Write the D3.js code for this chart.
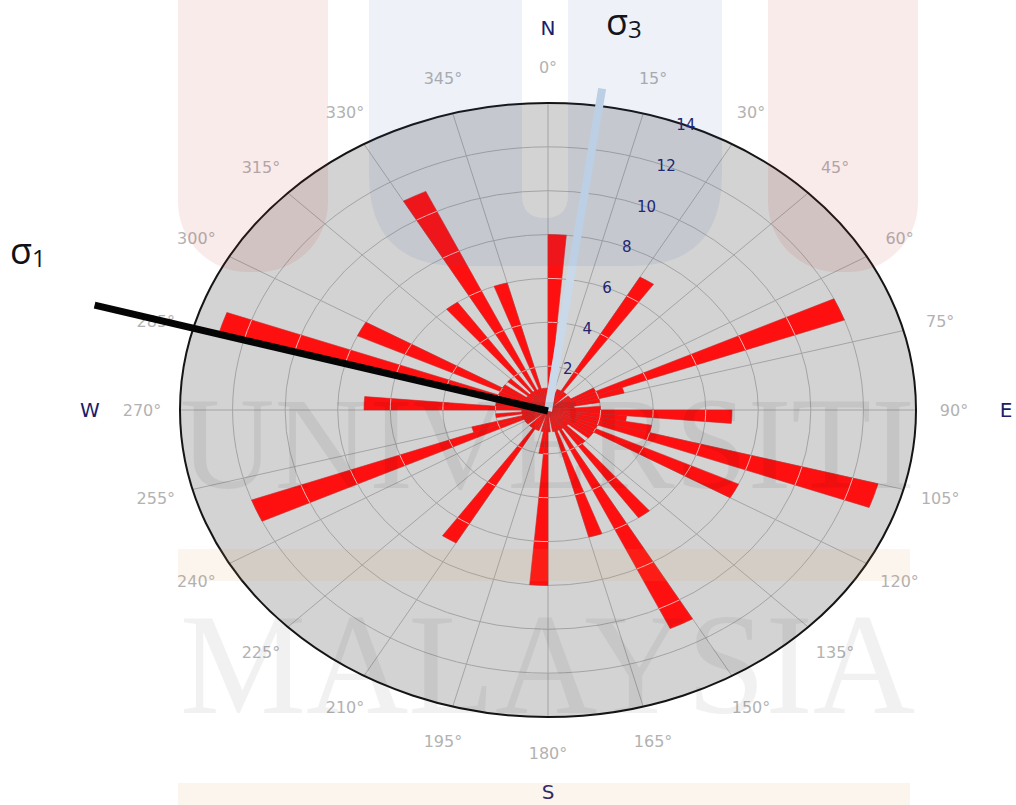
<!DOCTYPE html>
<html>
<head>
<meta charset="UTF-8">
<title>Rose diagram</title>
<script src="https://cdn.jsdelivr.net/npm/d3@7"></script>
<style>
  body { margin: 0; background: #fff; }
  svg { display: block; }
  .grid { fill: none; stroke: #a4a4a4; stroke-width: 1px; }
  .deg { font: 16px "DejaVu Sans", sans-serif; fill: #b2b2b2; }
  .val { font: 15px "DejaVu Sans", sans-serif; fill: #23236e; }
  .compass { font: 20px "DejaVu Sans", sans-serif; fill: #1c1c6a; }
  .sigma { font-family: "Open Sans", sans-serif; fill: #111; }
</style>
</head>
<body>
<script>
// 5 degree bins, counts (bin i covers i*5 .. i*5+5)
var binWidth = 5;
var counts = [
  8, 1, 0, 0, 1, 1, 7, 1, 1, 0, 1, 1,     //   0 -  55
  2, 12, 3, 2, 1, 2, 7, 3, 4, 13, 2, 8,   //  60 - 115
  2, 2, 1, 2, 6, 1, 11, 1, 6, 1, 0, 1,    // 120 - 175
  8, 2, 1, 0, 1, 1, 7, 1, 1, 0, 1, 1,     // 180 - 235
  1, 12, 3, 1, 2, 1, 7, 2, 1, 13, 2, 8,   // 240 - 295
  2, 1, 2, 1, 6, 1, 11, 1, 6, 1, 1, 1     // 300 - 355
];
var ringValues = [2, 4, 6, 8, 10, 12];
var ringLabels = [2, 4, 6, 8, 10, 12, 14];
var angleTicks = [0, 15, 30, 45, 60, 75, 90, 105, 120, 135, 150, 165,
                  180, 195, 210, 225, 240, 255, 270, 285, 300, 315, 330, 345];
var compassNames = ["N", "E", "S", "W"];
var compassAngles = [0, 90, 180, 270];
// principal stress directions (azimuth, length in count units)
var sigmaNames = ["1", "3"];
var sigmaAzimuth = [285.5, 8];
var sigmaLength = [17.9, 14.8];

var W = 1016, H = 805;
var cx = 548, cy = 410, rx = 368, ry = 307, k = ry / rx;
var maxVal = 14;

var r = d3.scaleLinear().domain([0, maxVal]).range([0, rx]);
var ang = d3.scaleLinear().domain([0, 360]).range([0, 2 * Math.PI]);

function pt(deg, v) {
    var t = ang(deg);
    return [cx + r(v) * Math.sin(t), cy - r(v) * k * Math.cos(t)];
}

var bins = counts.map(function(c, i) { return {start: i * binWidth, value: c}; });

var svg = d3.select("body").append("svg")
    .attr("width", W).attr("height", H);

// circular plot squashed into an ellipse
var plot = svg.append("g")
    .attr("transform", "translate(" + cx + "," + cy + ") scale(1," + k + ")");

plot.append("circle")
    .attr("r", r(maxVal))
    .attr("fill", "#d3d3d3");

plot.selectAll(".ring")
    .data(ringValues)
    .enter().append("circle")
    .attr("class", "grid ring")
    .attr("r", function(d) { return r(d); })
    .attr("vector-effect", "non-scaling-stroke");

plot.selectAll(".spoke")
    .data(angleTicks)
    .enter().append("line")
    .attr("class", "grid spoke")
    .attr("x1", 0).attr("y1", 0)
    .attr("x2", function(d) { return r(maxVal) * Math.sin(ang(d)); })
    .attr("y2", function(d) { return -r(maxVal) * Math.cos(ang(d)); })
    .attr("vector-effect", "non-scaling-stroke");

var arc = d3.arc()
    .innerRadius(0)
    .outerRadius(function(d) { return r(d.value); })
    .startAngle(function(d) { return ang(d.start); })
    .endAngle(function(d) { return ang(d.start + binWidth); });

plot.selectAll(".bar")
    .data(bins.filter(function(d) { return d.value > 0; }))
    .enter().append("path")
    .attr("class", "bar")
    .attr("d", arc)
    .attr("fill", "#ff1010")
    .attr("stroke", "#c42a2a")
    .attr("stroke-width", 0.6)
    .attr("vector-effect", "non-scaling-stroke");

// light seams where the rings cross the bars
var seams = [];
bins.forEach(function(b) {
    ringValues.forEach(function(v) {
        if (v < b.value) seams.push({start: b.start, ring: v});
    });
});
plot.selectAll(".seam")
    .data(seams)
    .enter().append("path")
    .attr("d", function(d) {
        var p = d3.path();
        p.arc(0, 0, r(d.ring), ang(d.start) - Math.PI / 2, ang(d.start + binWidth) - Math.PI / 2);
        return p.toString();
    })
    .attr("fill", "none")
    .attr("stroke", "#f6b4b4")
    .attr("stroke-width", 1)
    .attr("vector-effect", "non-scaling-stroke");

plot.append("circle")
    .attr("r", r(maxVal))
    .attr("fill", "none")
    .attr("stroke", "#151515")
    .attr("stroke-width", 2)
    .attr("vector-effect", "non-scaling-stroke");

// angle labels
svg.selectAll(".deg")
    .data(angleTicks)
    .enter().append("text")
    .attr("class", "deg")
    .attr("x", function(d) { return cx + (rx + 38) * Math.sin(ang(d)); })
    .attr("y", function(d) { return cy - (ry + 36) * Math.cos(ang(d)); })
    .attr("text-anchor", "middle")
    .attr("dominant-baseline", "central")
    .text(function(d) { return d + "°"; });

// count labels along 22 degrees
svg.selectAll(".val")
    .data(ringLabels)
    .enter().append("text")
    .attr("class", "val")
    .attr("x", function(d) { return pt(22, d)[0]; })
    .attr("y", function(d) { return pt(22, d)[1]; })
    .attr("text-anchor", "middle")
    .attr("dominant-baseline", "central")
    .text(function(d) { return d; });

svg.selectAll(".compass")
    .data(compassNames)
    .enter().append("text")
    .attr("class", "compass")
    .attr("x", function(d, i) { return cx + (rx + 90) * Math.sin(ang(compassAngles[i])); })
    .attr("y", function(d, i) { return cy - (ry + 75) * Math.cos(ang(compassAngles[i])); })
    .attr("text-anchor", "middle")
    .attr("dominant-baseline", "central")
    .text(function(d) { return d; });

// sigma 3 (light) and sigma 1 (black) lines
var sigColor = {"1": "#050505", "3": "#c9d9ea"};
var sigWidth = {"1": 7, "3": 8};
sigmaNames.slice().reverse().forEach(function(n) {
    var i = sigmaNames.indexOf(n);
    var e = pt(sigmaAzimuth[i], sigmaLength[i]);
    svg.append("line")
        .attr("x1", cx).attr("y1", cy + 1)
        .attr("x2", e[0]).attr("y2", e[1])
        .attr("stroke", sigColor[n])
        .attr("stroke-width", sigWidth[n]);
});

var sigLabelPos = {"1": [10, 264], "3": [606, 35]};
sigmaNames.forEach(function(n) {
    var t = svg.append("text").attr("class", "sigma")
        .attr("x", sigLabelPos[n][0]).attr("y", sigLabelPos[n][1]);
    t.append("tspan").attr("font-size", 36).text("σ");
    t.append("tspan").attr("font-size", 24).attr("dy", 3).text(n);
});

// faint university watermark over everything
var wm = svg.append("g").attr("pointer-events", "none");
wm.append("rect").attr("x", 178).attr("y", -80).attr("width", 150).attr("height", 352)
    .attr("rx", 70).attr("fill", "#cc1f1f").attr("opacity", 0.09);
wm.append("rect").attr("x", 768).attr("y", -80).attr("width", 150).attr("height", 352)
    .attr("rx", 70).attr("fill", "#cc1f1f").attr("opacity", 0.09);
wm.append("path")
    .attr("d", "M369,-80 H722 V175 Q722,266 631,266 H460 Q369,266 369,175 Z " +
               "M522,-80 V195 Q522,218 545,218 Q568,218 568,195 V-80 Z")
    .attr("fill-rule", "evenodd")
    .attr("fill", "#2a5ca8").attr("opacity", 0.08);
wm.append("rect").attr("x", 178).attr("y", 549).attr("width", 732).attr("height", 32)
    .attr("fill", "#e39a4c").attr("opacity", 0.1);
wm.append("rect").attr("x", 178).attr("y", 783).attr("width", 732).attr("height", 30)
    .attr("fill", "#e39a4c").attr("opacity", 0.1);
wm.append("text")
    .attr("x", 180).attr("y", 488)
    .attr("textLength", 735).attr("lengthAdjust", "spacingAndGlyphs")
    .attr("font-family", "'Liberation Serif', serif").attr("font-size", 132)
    .attr("fill", "#000").attr("opacity", 0.06)
    .text("UNIVERSITI");
wm.append("text")
    .attr("x", 180).attr("y", 713)
    .attr("textLength", 735).attr("lengthAdjust", "spacingAndGlyphs")
    .attr("font-family", "'Liberation Serif', serif").attr("font-size", 145)
    .attr("fill", "#000").attr("opacity", 0.05)
    .text("MALAYSIA");
</script>
</body>
</html>
